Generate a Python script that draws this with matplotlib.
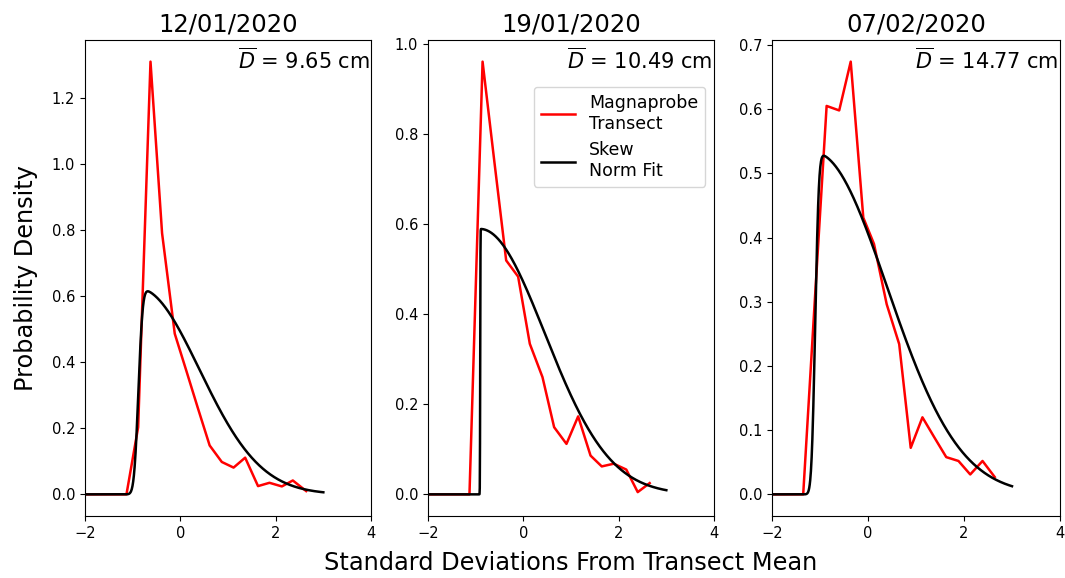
import math
import numpy as np
import matplotlib
matplotlib.use("Agg")
import matplotlib.pyplot as plt

# ---- data ----
titles = ["12/01/2020", "19/01/2020", "07/02/2020"]
mean_depths = ["9.65", "10.49", "14.77"]

x1 = [-2.0, -1.13, -0.885, -0.626, -0.383, -0.117, 0.13, 0.37, 0.615, 0.87, 1.117, 1.36, 1.63, 1.87, 2.13, 2.36, 2.64]
y1 = [0.0, 0.0, 0.203, 1.309, 0.79, 0.486, 0.372, 0.26, 0.148, 0.098, 0.081, 0.111, 0.025, 0.035, 0.024, 0.042, 0.01]

x2 = [-2.0, -1.13, -0.855, -0.61, -0.36, -0.109, 0.136, 0.402, 0.646, 0.905, 1.15, 1.41, 1.645, 1.897, 2.16, 2.40, 2.65]
y2 = [0.0, 0.0, 0.96, 0.74, 0.519, 0.483, 0.334, 0.26, 0.149, 0.112, 0.173, 0.086, 0.062, 0.068, 0.055, 0.005, 0.025]

x3 = [-2.0, -1.35, -1.11, -0.862, -0.6, -0.36, -0.098, 0.125, 0.39, 0.65, 0.89, 1.134, 1.38, 1.63, 1.885, 2.13, 2.386, 2.64]
y3 = [0.0, 0.0, 0.30, 0.605, 0.598, 0.674, 0.431, 0.39, 0.296, 0.234, 0.0725, 0.120, 0.089, 0.058, 0.052, 0.031, 0.052, 0.027]

# skew-normal fit parameters (loc, scale, shape) per panel
fit_loc = [-0.88, -0.905, -1.10]
fit_scale = [1.28, 1.355, 1.50]
fit_shape = [18.0, 300.0, 25.0]
fit_range = [-2.0, 3.0]

red_x = [x1, x2, x3]
red_y = [y1, y2, y3]


def skewnorm_pdf(x, a, loc, scale):
    z = (np.asarray(x) - loc) / scale
    phi = np.exp(-0.5 * z ** 2) / math.sqrt(2 * math.pi)
    cdf = 0.5 * (1 + np.vectorize(math.erf)(a * z / math.sqrt(2)))
    return 2.0 / scale * phi * cdf


W, H = 1065, 578
fig = plt.figure(figsize=(W / 100, H / 100), dpi=100)
lefts = [85, 428, 772]
rights = [371, 714, 1060]
top, bottom = 40, 516
axes = []
for l, r in zip(lefts, rights):
    ax = fig.add_axes([l / W, 1 - bottom / H, (r - l) / W, (bottom - top) / H])
    axes.append(ax)

xf = np.linspace(fit_range[0], fit_range[1], 1000)
for i, ax in enumerate(axes):
    ax.plot(red_x[i], red_y[i], color="red", lw=1.8, label="Magnaprobe\nTransect")
    ax.plot(xf, skewnorm_pdf(xf, fit_shape[i], fit_loc[i], fit_scale[i]),
            color="black", lw=1.8, label="Skew\nNorm Fit")
    ax.set_xlim(-2, 4)
    ax.set_xticks([-2, 0, 2, 4])
    ax.tick_params(labelsize=10.5)
    ax.set_title(titles[i], fontsize=17.5)
    ax.text(0.995, 0.985, r"$\overline{D}$ = " + mean_depths[i] + " cm",
            transform=ax.transAxes, ha="right", va="top", fontsize=15)

axes[0].set_ylabel("Probability Density", fontsize=17.3, labelpad=10)
axes[1].set_xlabel("Standard Deviations From Transect Mean", fontsize=17.3, labelpad=7.5)
axes[1].legend(loc="upper right", bbox_to_anchor=(1.0, 0.92), fontsize=12.5)

fig.savefig("out.png", dpi=100)
